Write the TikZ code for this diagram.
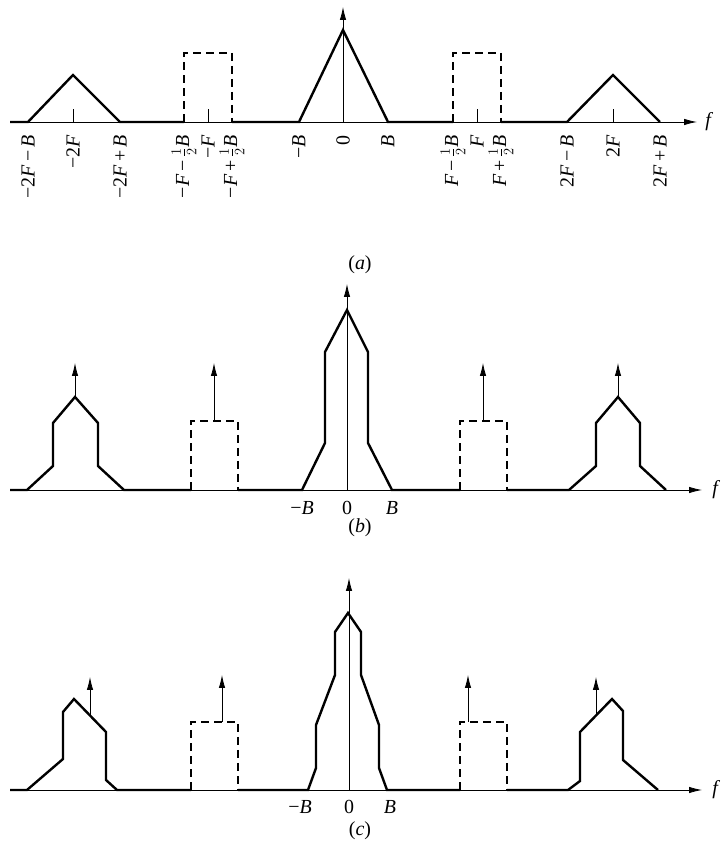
\documentclass[tikz,border=0pt]{standalone}
\usepackage{fontspec}
\setmainfont{Liberation Serif}
\usetikzlibrary{arrows.meta}
\newcommand{\vF}{\textit{F}}
\newcommand{\vB}{\textit{B}}
\newcommand{\mi}{\,−\,}
\newcommand{\hf}{$\frac{1}{2}$}

\begin{document}
\begin{tikzpicture}[x=1bp, y=1bp,
    spec/.style={line width=2.4bp, line join=miter},
    band/.style={spec, dash pattern=on 8bp off 5bp},
    axisline/.style={line width=0.8bp, -{Latex[length=13bp,width=6.5bp]}},
    imp/.style={line width=0.8bp, -{Latex[length=13bp,width=6.5bp]}},
    lbl/.style={font=\fontsize{20}{24}\selectfont, inner sep=0pt},
    tickl/.style={lbl, rotate=90, anchor=east}]
  \useasboundingbox (0,0) rectangle (721,849);

  % (a) -- spectrum of the signal, band around +-F dashed, replicas at +-2F
  \begin{scope}[yshift=727bp]
    \draw[axisline] (10,0) -- (697,0) node[lbl, right=8bp] (fa) {\textit{f}};
    \draw[spec] (10,0) -- (28,0) -- (73,47) -- (120,0) -- (184,0);
    \draw[band] (184,0) -- (184,69) -- (232,69) -- (232,0);
    \draw[spec] (232,0) -- (299,0) -- (343,92) -- (388,0) -- (453,0);
    \draw[band] (453,0) -- (453,69) -- (501,69) -- (501,0);
    \draw[spec] (501,0) -- (567,0) -- (613,47) -- (660,0);
    \draw[imp] (343,0) -- (343,115);
    % small ticks at -2F, -F, F, 2F
    \draw[line width=0.8bp] (73,0) -- (73,13) (208,0) -- (208,13)
      (477,0) -- (477,13) (613,0) -- (613,13);
    \node[tickl] (a1) at (28,-13) {−2\vF\mi\vB};
    \node[tickl] (a2) at (73,-13) {−2\vF};
    \node[tickl] (a3) at (120,-13) {−2\vF\,+\,\vB};
    \node[tickl] (a4) at (184,-13) {−\vF\mi\hf\vB};
    \node[tickl] (a5) at (208,-13) {−\vF};
    \node[tickl] (a6) at (232,-13) {−\vF\,+\,\hf\vB};
    \node[tickl] (a7) at (299,-13) {−\vB};
    \node[tickl] (a8) at (343,-13) {0};
    \node[tickl] (a9) at (388,-13) {\vB};
    \node[tickl] (a10) at (453,-13) {\vF\mi\hf\vB};
    \node[tickl] (a11) at (477,-13) {\vF};
    \node[tickl] (a12) at (501,-13) {\vF\,+\,\hf\vB};
    \node[tickl] (a13) at (567,-13) {2\vF\mi\vB};
    \node[tickl] (a14) at (613,-13) {2\vF};
    \node[tickl] (a15) at (660,-13) {2\vF\,+\,\vB};
    \node[lbl] (capa) at (360,-143) {(\textit{a})};
  \end{scope}

  % (b)
  \begin{scope}[yshift=359bp]
    \draw[axisline] (10,0) -- (702,0) node[lbl, right=10bp] (fb) {\textit{f}};
    \draw[spec] (10,0) -- (27,0) -- (53,24) -- (53,67) -- (75,93) -- (98,67)
      -- (98,24) -- (124,0) -- (191,0);
    \draw[band] (191,0) -- (191,69) -- (238,69) -- (238,0);
    \draw[spec] (238,0) -- (302,0) -- (325,47) -- (325,138) -- (347,180)
      -- (368,138) -- (368,47) -- (392,0) -- (460,0);
    \draw[band] (460,0) -- (460,69) -- (507,69) -- (507,0);
    \draw[spec] (507,0) -- (569,0) -- (596,24) -- (596,67) -- (618,93)
      -- (640,67) -- (640,24) -- (666,0);
    \draw[imp] (347,0) -- (347,206);
    \draw[imp] (75,93) -- (75,127);
    \draw[imp] (214,69) -- (214,127);
    \draw[imp] (483,69) -- (483,127);
    \draw[imp] (618,93) -- (618,127);
    \node[lbl] (b1) at (302,-18) {−\vB};
    \node[lbl] (b2) at (347,-18) {0};
    \node[lbl] (b3) at (392,-18) {\vB};
    \node[lbl] (capb) at (360,-38) {(\textit{b})};
  \end{scope}

  % (c)
  \begin{scope}[yshift=59bp]
    \draw[axisline] (10,0) -- (702,0) node[lbl, right=10bp] (fc) {\textit{f}};
    \draw[spec] (10,0) -- (27,0) -- (63,31) -- (63,78) -- (74,91) -- (106,58)
      -- (106,10) -- (117,0) -- (191,0);
    \draw[band] (191,0) -- (191,68) -- (238,68) -- (238,0);
    \draw[spec] (238,0) -- (308,0) -- (316,22) -- (316,65) -- (335,115)
      -- (335,158) -- (348,177) -- (361,158) -- (361,115) -- (379,65)
      -- (379,22) -- (387,0) -- (460,0);
    \draw[band] (460,0) -- (460,68) -- (507,68) -- (507,0);
    \draw[spec] (507,0) -- (568,0) -- (580,9) -- (580,58) -- (612,91)
      -- (623,79) -- (623,30) -- (658,0);
    \draw[imp] (349,0) -- (349,212);
    \draw[imp] (90,75) -- (90,113);
    \draw[imp] (222,68) -- (222,115);
    \draw[imp] (468,68) -- (468,115);
    \draw[imp] (596,75) -- (596,113);
    \node[lbl] (c1) at (300,-17) {−\vB};
    \node[lbl] (c2) at (349,-17) {0};
    \node[lbl] (c3) at (390,-17) {\vB};
    \node[lbl] (capc) at (360,-41) {(\textit{c})};
  \end{scope}
\end{tikzpicture}
\end{document}
